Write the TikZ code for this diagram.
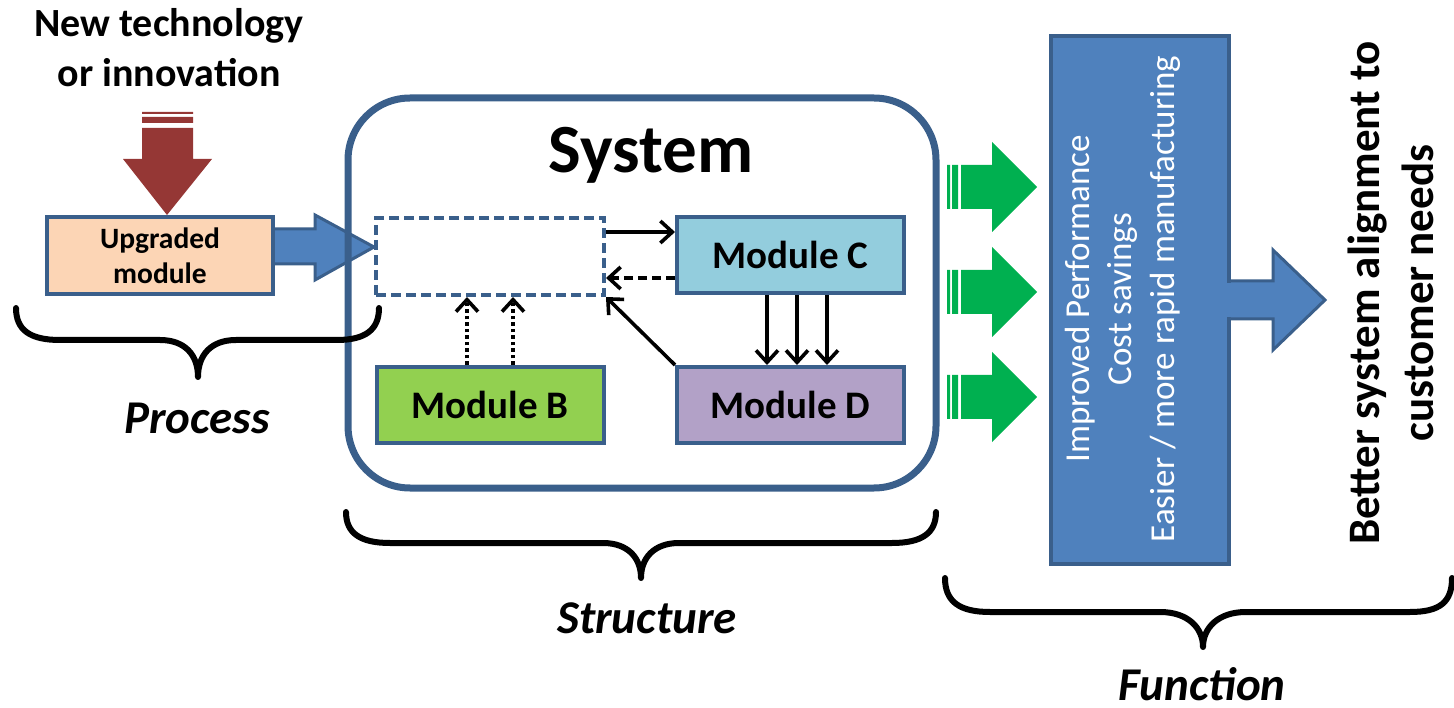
\documentclass[tikz,border=0pt]{standalone}
\usepackage{fontspec}
\setmainfont{Carlito}
\usetikzlibrary{arrows.meta}
\definecolor{boxblue}{HTML}{3A5F8B}
\definecolor{fillblue}{HTML}{4F81BD}
\definecolor{peach}{HTML}{FCD5B5}
\definecolor{brick}{HTML}{953735}
\definecolor{arrowgreen}{HTML}{00B050}
\definecolor{modgreen}{HTML}{92D050}
\definecolor{modcyan}{HTML}{93CDDD}
\definecolor{modlilac}{HTML}{B2A1C7}
\newcommand{\modfont}{\bfseries\fontsize{39}{46}\selectfont}
\newcommand{\tagfont}{\bfseries\itshape\fontsize{47}{56}\selectfont}

\begin{document}
\begin{tikzpicture}[x=1pt, y=-1pt,
    module/.style={draw=boxblue, line width=4pt, minimum width=227pt, minimum height=76pt, inner sep=0pt, font=\modfont},
    conn/.style={line width=3.6pt, -{Straight Barb[length=12pt,width=22pt]}},
    brace/.style={line width=6pt, line cap=round, line join=round},
    tag/.style={font=\tagfont, anchor=base, inner sep=0pt},
    blockarrow/.style={fill=fillblue, draw=boxblue, line width=3pt, line join=miter}]
  \useasboundingbox (0,0) rectangle (1454,708);

  % process side
  \node[font=\bfseries\fontsize{40}{50}\selectfont, align=center] (tech) at (169,48) {New technology\\or innovation};
  \node[draw=boxblue, fill=peach, line width=4pt, minimum width=226pt, minimum height=77pt, inner sep=0pt,
        align=center, font=\bfseries\fontsize{29.5}{35}\selectfont] (up) at (160,255.5) {Upgraded\\module};
  \fill[brick] (142,112) rectangle (193,114) (142,117) rectangle (193,123);
  \fill[brick] (142,128) -- (193,128) -- (193,159) -- (212,159) -- (up.north -| 167,0) -- (123,159) -- (142,159) -- cycle;

  % system
  \node[draw=boxblue, line width=4pt, dash pattern=on 10pt off 5pt, minimum width=228pt, minimum height=77pt, inner sep=0pt] (dash) at (490,256.5) {};
  \node[module, fill=modcyan] (modC) at (790.5,255) {Module C};
  \node[module, fill=modgreen] (modB) at (490,405) {Module B};
  \node[module, fill=modlilac] (modD) at (790.5,405) {Module D};

  \draw[blockarrow] (up.east |- 0,229) -- (315,229) -- (315,215) -- (dash.west |- 0,247) -- (315,280) -- (315,264) -- (up.east |- 0,264);
  \node[draw=boxblue, line width=7pt, rounded corners=62pt, minimum width=588pt, minimum height=390pt] (sys) at (642,293) {};
  \node[font=\bfseries\fontsize{69}{80}\selectfont, anchor=base] (systitle) at (651,173) {System};

  \draw[conn] (dash.east |- 0,232) -- (modC.west |- 0,232);
  \draw[conn, dash pattern=on 9pt off 5pt] (modC.west |- 0,278) -- (dash.east |- 0,278);
  \draw[conn] (modD.north west) -- (dash.south east);
  \foreach \x in {767,797,827}
    \draw[conn] (modC.south -| \x,0) -- (modD.north -| \x,0);
  \foreach \x in {467,513}
    \draw[conn, dash pattern=on 3.5pt off 3pt] (modB.north -| \x,0) -- (dash.south -| \x,0);

  % function side
  \foreach \y in {187,292,397} {
    \fill[arrowgreen] (947,\y-22) rectangle (950,\y+22) (952,\y-22) rectangle (958,\y+22);
    \fill[arrowgreen] (961,\y-22) -- (992,\y-22) -- (992,\y-45) -- (1037,\y) -- (992,\y+45) -- (992,\y+22) -- (961,\y+22) -- cycle;
  }
  \node[draw=boxblue, fill=fillblue, line width=3.5pt, minimum width=178pt, minimum height=528pt, inner sep=0pt] (func) at (1140,300) {};
  \node[rotate=90, align=center, text=white, font=\fontsize{35}{42.5}\selectfont] (gains) at (1122.5,299)
    {Improved Performance\\Cost savings\\Easier / more rapid manufacturing};
  \draw[blockarrow] (func.east |- 0,281) -- (1273,281) -- (1273,250) -- (1325,300) -- (1273,350) -- (1273,319) -- (func.east |- 0,319);
  \fill[fillblue] (1225,282.6) rectangle (1233,317.4);
  \node[rotate=90, align=center, font=\bfseries\fontsize{45}{54}\selectfont] (better) at (1391,293)
    {Better system alignment to\\customer needs};

  % braces
  \draw[brace] (16,308) .. controls (16,330) and (30,340) .. (60,340) -- (160,340)
    .. controls (185,340) and (198,355) .. (198,377) .. controls (198,355) and (211,340) .. (236,340)
    -- (337,340) .. controls (365,340) and (379,330) .. (379,308);
  \draw[brace] (346,512) .. controls (346,533) and (360,543) .. (390,543) -- (603,543)
    .. controls (628,543) and (641,558) .. (641,578) .. controls (641,558) and (654,543) .. (679,543)
    -- (892,543) .. controls (922,543) and (936,533) .. (936,512);
  \draw[brace] (945,578) .. controls (945,602) and (960,612) .. (990,612) -- (1160,612)
    .. controls (1188,612) and (1203,628) .. (1203,647) .. controls (1203,628) and (1218,612) .. (1246,612)
    -- (1410,612) .. controls (1440,612) and (1452,602) .. (1452,578);
  \node[tag] (process) at (197,433) {Process};
  \node[tag] (structure) at (647,633) {Structure};
  \node[tag] (function) at (1202,700) {Function};
\end{tikzpicture}
\end{document}
